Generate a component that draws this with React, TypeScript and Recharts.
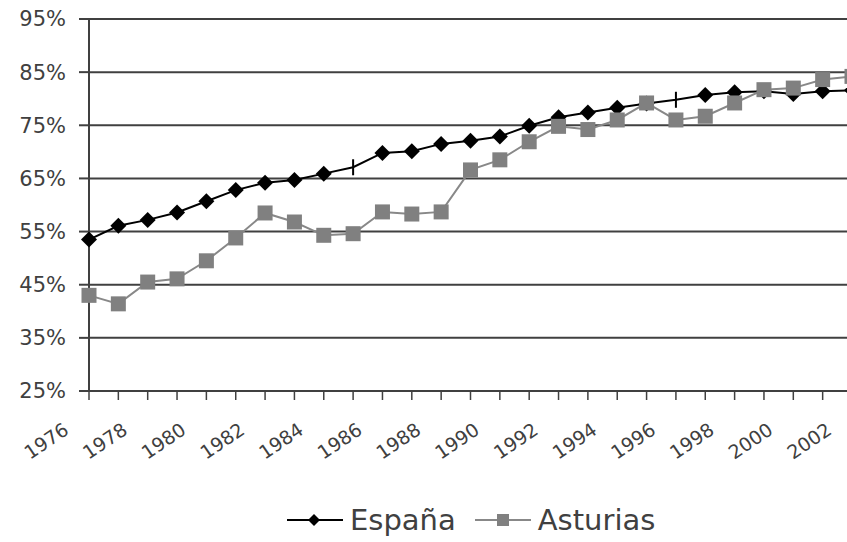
import React from "react";
import { LineChart, Line, XAxis, YAxis, CartesianGrid, Legend } from "recharts";

// Tasa (%) 1976-2002, España vs Asturias
const years = [
  1976, 1977, 1978, 1979, 1980, 1981, 1982, 1983, 1984, 1985, 1986, 1987, 1988, 1989,
  1990, 1991, 1992, 1993, 1994, 1995, 1996, 1997, 1998, 1999, 2000, 2001, 2002,
];
const espana = [
  53.5, 56.1, 57.2, 58.6, 60.7, 62.8, 64.2, 64.7, 65.9, 67.1, 69.8, 70.1, 71.5, 72.1,
  72.9, 74.9, 76.5, 77.4, 78.3, 79.1, 79.8, 80.7, 81.2, 81.4, 80.9, 81.4, 81.6,
];
const asturias = [
  43.0, 41.4, 45.5, 46.1, 49.5, 53.8, 58.5, 56.8, 54.3, 54.6, 58.7, 58.3, 58.7, 66.6,
  68.5, 71.9, 74.8, 74.2, 76.0, 79.2, 76.0, 76.7, 79.2, 81.7, 82.0, 83.6, 84.2,
];
// years where the España series shows only a dash instead of a diamond
const espanaPlainYears = [1985, 1996];
const yTicks = [25, 35, 45, 55, 65, 75, 85, 95];
const seriesOrder = ["España", "Asturias"];

const data = years.map((year, i) => ({ year, espana: espana[i], asturias: asturias[i] }));

const FONT = "'DejaVu Sans', Verdana, sans-serif";
const INK = "#404040";

const DiamondDot = (props: any) => {
  const { cx, cy, payload, index } = props;
  if (cx == null || cy == null) return null;
  if (espanaPlainYears.includes(payload.year)) {
    return <line key={index} x1={cx} x2={cx} y1={cy - 8} y2={cy + 8} stroke="#000" strokeWidth={2} />;
  }
  return (
    <polygon
      key={index}
      points={`${cx},${cy - 8} ${cx + 8},${cy} ${cx},${cy + 8} ${cx - 8},${cy}`}
      fill="#000"
    />
  );
};

const SquareDot = (props: any) => {
  const { cx, cy, index } = props;
  if (cx == null || cy == null) return null;
  return <rect key={index} x={cx - 7.5} y={cy - 7.5} width={15} height={15} fill="#808080" />;
};

const YearTick = (props: any) => {
  const { x, payload } = props;
  if (payload.value % 2 !== 0) return null;
  return (
    <g transform={`translate(${x - 19},${433})`}>
      <text x={0} y={0} textAnchor="end" transform="rotate(-34)" fill={INK} fontSize={19} fontFamily={FONT}>
        {payload.value}
      </text>
    </g>
  );
};

const LegendContent = ({ payload }: any) => {
  const items = [...(payload || [])].sort(
    (a: any, b: any) => seriesOrder.indexOf(a.value) - seriesOrder.indexOf(b.value)
  );
  return (
    <div style={{ display: "flex", alignItems: "center", fontFamily: FONT, fontSize: 29, color: INK, lineHeight: "34px" }}>
      {items.map((p: any, i: number) => (
        <div key={p.value} style={{ display: "flex", alignItems: "center", marginRight: i === 0 ? 19 : 0 }}>
          <svg width={56} height={20} style={{ marginRight: 7 }}>
            <line x1={0} x2={56} y1={10} y2={10} stroke={p.color} strokeWidth={2} />
            {p.value === "España" ? (
              <polygon points="27,4 33,10 27,16 21,10" fill="#000" />
            ) : (
              <rect x={22} y={4} width={12} height={12} fill="#808080" />
            )}
          </svg>
          <span>{p.value}</span>
        </div>
      ))}
    </div>
  );
};

export default function App() {
  return (
    <div style={{ position: "fixed", left: 0, top: 0, width: 847, height: 542, overflow: "hidden", background: "#fff" }}>
      <LineChart width={872} height={542} data={data} margin={{ top: 19, right: 20, bottom: 0, left: 0 }}>
        <CartesianGrid vertical={false} stroke={INK} strokeWidth={2} />
        <XAxis
          dataKey="year"
          type="number"
          domain={[1976, 2002]}
          ticks={years}
          interval={0}
          height={151}
          tickSize={9}
          axisLine={{ stroke: INK, strokeWidth: 2 }}
          tickLine={{ stroke: INK, strokeWidth: 1.5 }}
          tick={<YearTick />}
        />
        <YAxis
          type="number"
          domain={[25, 95]}
          ticks={yTicks}
          width={89}
          tickSize={10}
          tickMargin={13}
          tickFormatter={(v: number) => `${v}%`}
          axisLine={{ stroke: INK, strokeWidth: 2 }}
          tickLine={{ stroke: INK, strokeWidth: 2 }}
          tick={{ fill: INK, fontSize: 21, fontFamily: FONT }}
        />
        <Legend
          layout="horizontal"
          verticalAlign="middle"
          align="center"
          wrapperStyle={{ top: 503, left: 287, width: 520 }}
          content={<LegendContent />}
        />
        <Line
          dataKey="espana"
          name="España"
          stroke="#000"
          strokeWidth={2}
          dot={<DiamondDot />}
          activeDot={false}
          isAnimationActive={false}
        />
        <Line
          dataKey="asturias"
          name="Asturias"
          stroke="#888"
          strokeWidth={2}
          dot={<SquareDot />}
          activeDot={false}
          isAnimationActive={false}
        />
      </LineChart>
    </div>
  );
}
